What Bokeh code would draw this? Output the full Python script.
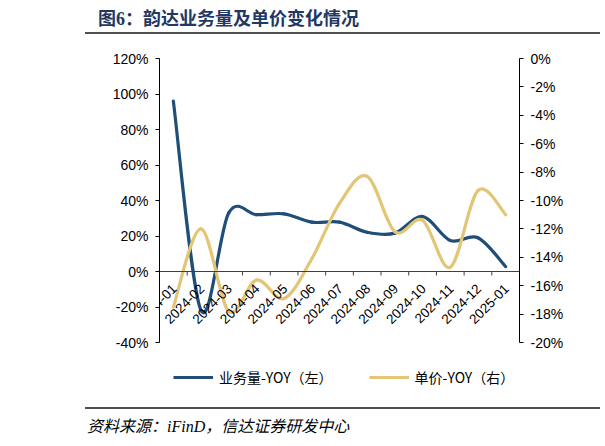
import math
from bokeh.plotting import figure
from bokeh.models import (Range1d, LinearAxis, FixedTicker, PrintfTickFormatter,
                          Legend, LegendItem, Div, Span, Label)
from bokeh.layouts import column
from bokeh.embed import file_html
from bokeh.resources import INLINE

# ---- data ----
months = ["2024-01", "2024-02", "2024-03", "2024-04", "2024-05", "2024-06", "2024-07",
          "2024-08", "2024-09", "2024-10", "2024-11", "2024-12", "2025-01"]
volume_yoy = [96.0, -22.0, 33.0, 32.0, 32.5, 27.8, 27.8, 22.1, 21.6, 31.0, 17.5, 19.0, 2.8]
price_yoy = [-17.5, -12.0, -17.8, -15.6, -16.9, -14.1, -10.2, -8.3, -12.2, -11.4, -14.7, -9.3, -11.0]
left_ticks = [-40, -20, 0, 20, 40, 60, 80, 100, 120]
right_ticks = [-20, -18, -16, -14, -12, -10, -8, -6, -4, -2, 0]
volume_label = "业务量-YOY（左）"
price_label = "单价-YOY（右）"
title_text = "图6：韵达业务量及单价变化情况"
source_text = "资料来源：iFinD，信达证券研发中心"

BLUE = "#1f4e79"
GOLD = "#e3c576"
FONT = "Liberation Sans"

# ---- layout constants (pixels) ----
PAGE_W = 605
FRAME_W = 360
BORDER_L, BORDER_T = 159, 22
BORDER_R = PAGE_W - BORDER_L - FRAME_W
FRAME_H = 342                       # frame extends down to hold the legend
AXIS_PX = 284                       # pixel span of the value axes
TICK_PX = 4


def smooth_segments(xs, ys):
    """Cubic Bezier segments (Catmull-Rom style smoothing, like a smoothed line)."""
    n = len(xs)
    d = dict(x0=[], y0=[], x1=[], y1=[], cx0=[], cy0=[], cx1=[], cy1=[])
    for i in range(n - 1):
        ip, inx = max(i - 1, 0), min(i + 2, n - 1)
        d["x0"].append(xs[i]); d["y0"].append(ys[i])
        d["x1"].append(xs[i + 1]); d["y1"].append(ys[i + 1])
        d["cx0"].append(xs[i] + (xs[i + 1] - xs[ip]) / 6.0)
        d["cy0"].append(ys[i] + (ys[i + 1] - ys[ip]) / 6.0)
        d["cx1"].append(xs[i + 1] - (xs[inx] - xs[i]) / 6.0)
        d["cy1"].append(ys[i + 1] - (ys[inx] - ys[i]) / 6.0)
    return d


xs = list(range(len(months)))
l_span = left_ticks[-1] - left_ticks[0]
r_span = right_ticks[-1] - right_ticks[0]
l_bottom = left_ticks[-1] - l_span * FRAME_H / AXIS_PX
r_bottom = right_ticks[-1] - r_span * FRAME_H / AXIS_PX

p = figure(frame_width=FRAME_W, frame_height=FRAME_H, x_range=Range1d(-0.5, len(months) - 0.5),
           y_range=Range1d(l_bottom, left_ticks[-1]), x_axis_location=None,
           output_backend="svg", toolbar_location=None,
           min_border_left=BORDER_L, min_border_right=BORDER_R, min_border_top=BORDER_T,
           min_border_bottom=0, margin=(0, 0, 0, 0))
p.outline_line_color = None
p.grid.visible = False
p.background_fill_color = "white"
p.border_fill_color = "white"

la = p.yaxis[0]
la.ticker = FixedTicker(ticks=left_ticks)
la.formatter = PrintfTickFormatter(format="%d%%")
la.bounds = (left_ticks[0], left_ticks[-1])

p.extra_y_ranges = {"right": Range1d(r_bottom, right_ticks[-1])}
ra = LinearAxis(y_range_name="right", ticker=FixedTicker(ticks=right_ticks),
                formatter=PrintfTickFormatter(format="%d%%"),
                bounds=(right_ticks[0], right_ticks[-1]))
p.add_layout(ra, "right")

for ax in (la, ra):
    ax.axis_line_color = "#000000"
    ax.major_tick_line_color = "#000000"
    ax.major_tick_out = 4
    ax.major_tick_in = 0
    ax.minor_tick_line_color = None
    ax.major_label_text_font = FONT
    ax.major_label_text_font_size = "14px"
    ax.major_label_text_color = "#000000"
    ax.major_label_standoff = 7

# category axis drawn at the 0% level
p.add_layout(Span(location=0, dimension="width", line_color="#404040", line_width=1))
bounds_x = [x - 0.5 for x in xs] + [xs[-1] + 0.5]
tick_len = TICK_PX * l_span / AXIS_PX
p.segment(x0=bounds_x, y0=[0] * len(bounds_x), x1=bounds_x, y1=[-tick_len] * len(bounds_x),
          line_color="#404040", line_width=1)
for x, m in zip(xs, months):
    p.add_layout(Label(x=x, y=0, text=m, angle=math.pi / 4,
                       text_align="right", text_baseline="middle", x_offset=1, y_offset=-15,
                       text_font=FONT, text_font_size="13.5px", text_color="#000000"))

vb = smooth_segments(xs, volume_yoy)
pb = smooth_segments(xs, price_yoy)
p.bezier(source=vb, x0="x0", y0="y0", x1="x1", y1="y1", cx0="cx0", cy0="cy0", cx1="cx1", cy1="cy1",
         line_color=BLUE, line_width=3.2, line_cap="round")
p.bezier(source=pb, x0="x0", y0="y0", x1="x1", y1="y1", cx0="cx0", cy0="cy0", cx1="cx1", cy1="cy1",
         line_color=GOLD, line_width=3.2, line_cap="round", y_range_name="right")

# legend proxies (single non-drawable point so only the legend glyph shows)
nan = float("nan")
lv = p.line(x=[nan], y=[nan], line_color=BLUE, line_width=3.2)
lp = p.line(x=[nan], y=[nan], line_color=GOLD, line_width=3.2)
legend = Legend(items=[LegendItem(label=volume_label, renderers=[lv]),
                       LegendItem(label=price_label, renderers=[lp])],
                orientation="horizontal", location=(14, 13),
                label_text_font="Noto Sans CJK SC",
                label_text_font_size="14px", label_text_color="#000000",
                glyph_width=40, glyph_height=20, label_standoff=6, spacing=36, padding=0,
                border_line_color=None, background_fill_alpha=0)
p.add_layout(legend, "center")

title_div = Div(width=PAGE_W, height=36, margin=(0, 0, 0, 0), text=(
    f"<div style=\"margin-left:85px;width:515px;height:34px;box-sizing:border-box;"
    f"border-bottom:2px solid #505050;padding-left:13px;padding-top:9px;"
    f"font-family:'Liberation Serif','Noto Sans CJK SC';font-weight:bold;font-size:18px;"
    f"line-height:21px;color:#1f3864;white-space:nowrap;\">{title_text}</div>"))

footer_div = Div(width=PAGE_W, height=46, margin=(0, 0, 0, 0), text=(
    f"<div style=\"margin-left:85px;margin-top:7px;width:515px;box-sizing:border-box;"
    f"border-top:2px solid #505050;padding-left:2px;padding-top:8px;"
    f"font-family:'Liberation Serif','Noto Sans CJK SC';font-style:italic;font-size:16px;"
    f"line-height:20px;color:#000000;white-space:nowrap;\">{source_text}</div>"))

layout = column(title_div, p, footer_div, spacing=0)
open("out.html", "w").write(file_html(layout, INLINE))
